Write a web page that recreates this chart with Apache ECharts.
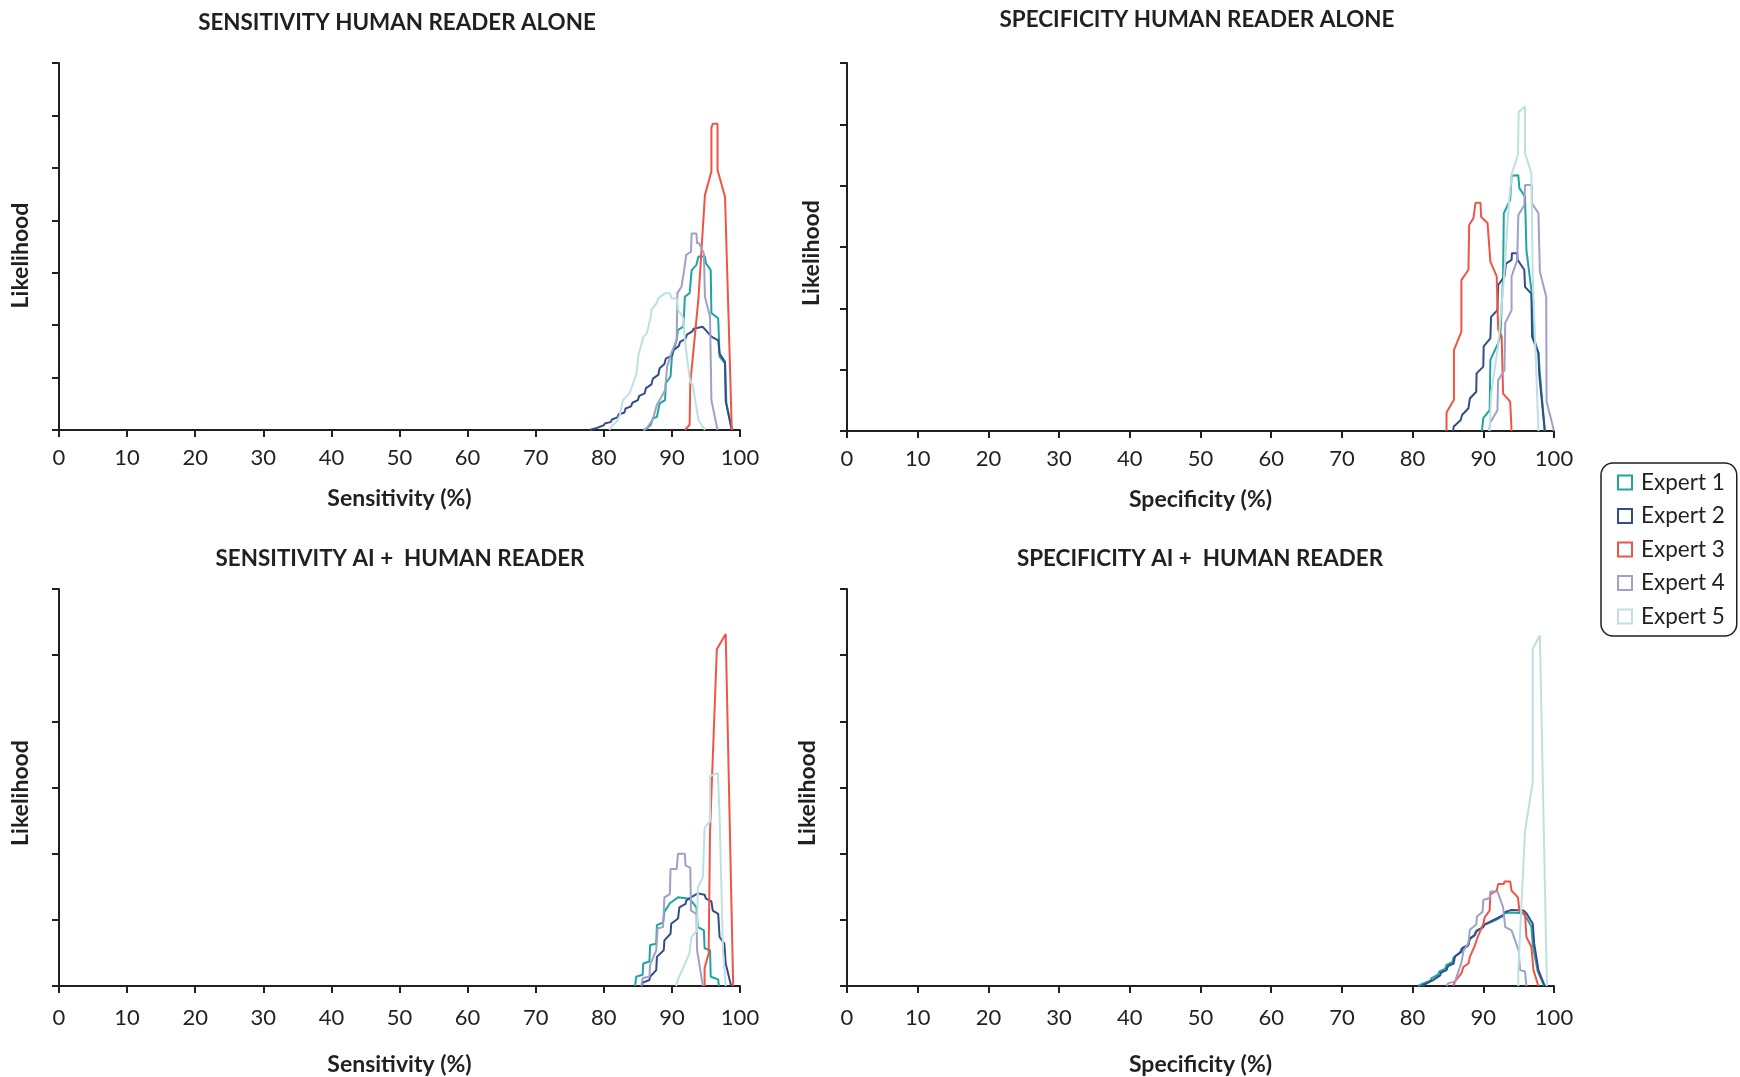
<!DOCTYPE html>
<html><head><meta charset="utf-8">
<script src="https://cdn.jsdelivr.net/npm/echarts@6/dist/echarts.min.js"></script>
<style>html,body{margin:0;padding:0;background:#fff}#c{width:1740px;height:1077px}</style>
</head><body><div id="c"></div>
<script>
const EXPERTS = ['Expert 1', 'Expert 2', 'Expert 3', 'Expert 4', 'Expert 5'];
const PANEL_TITLES = ['SENSITIVITY HUMAN READER ALONE', 'SPECIFICITY HUMAN READER ALONE', 'SENSITIVITY AI +  HUMAN READER', 'SPECIFICITY AI +  HUMAN READER'];
const X_NAMES = ['Sensitivity (%)', 'Specificity (%)', 'Sensitivity (%)', 'Specificity (%)'];
const Y_NAME = 'Likelihood';
const X_TICK_STEP = 10;
const Y_TICK_COUNTS = [7, 6, 6, 6];

// ---- Sensitivity, human reader alone: [x %, likelihood] ----
const SA_E1 = [[85.8,0],[86.3,0.03],[86.9,0.1],[87.2,0.22],[87.8,0.25],[88.2,0.51],[89.0,0.57],[89.1,0.89],[89.8,1.02],[90.0,1.4],[90.7,1.72],[90.9,1.91],[91.7,1.97],[91.9,2.54],[92.6,2.61],[92.9,3.05],[93.6,3.15],[93.9,3.31],[94.85,3.31],[95.0,3.18],[95.7,3.05],[95.8,2.23],[96.8,2.13],[97.0,1.4],[97.8,1.27],[98.0,0.51],[98.8,0]];
const SA_E2 = [[77.9,0],[78.0,0.02],[79.0,0.04],[79.1,0.07],[80.0,0.09],[80.2,0.13],[81.0,0.15],[81.2,0.2],[82.0,0.24],[82.2,0.3],[83.0,0.33],[83.2,0.41],[84.0,0.45],[84.2,0.52],[85.0,0.57],[85.2,0.65],[86.0,0.7],[86.2,0.8],[87.0,0.87],[87.2,0.98],[88.0,1.05],[88.2,1.18],[88.9,1.26],[89.1,1.36],[90.0,1.42],[90.2,1.52],[91.0,1.6],[91.2,1.68],[92.0,1.74],[92.2,1.82],[93.0,1.88],[93.2,1.93],[94.5,1.97],[95.0,1.9],[95.8,1.78],[96.8,1.71],[97.0,1.46],[97.8,1.3],[97.9,0.55],[98.8,0]];
const SA_E3 = [[91.9,0],[92.6,0.1],[92.7,0.89],[93.9,2.51],[94.85,4.48],[95.8,4.93],[95.8,5.76],[96.0,5.84],[96.7,5.84],[96.7,4.96],[97.8,4.45],[98.8,0]];
const SA_E4 = [[85.8,0],[86.3,0.03],[87.0,0.16],[87.3,0.25],[87.8,0.48],[88.2,0.57],[89.0,0.76],[89.3,1.21],[89.9,1.46],[90.7,1.72],[90.8,2.61],[91.4,2.73],[91.8,3.05],[92.1,3.34],[92.8,3.4],[92.9,3.75],[93.6,3.75],[93.7,3.56],[94.0,3.56],[94.7,3.37],[94.85,2.54],[95.6,2.16],[95.8,0.57],[96.7,0]];
const SA_E5 = [[80.8,0],[81.4,0.1],[81.9,0.16],[82.35,0.28],[82.8,0.57],[83.8,0.7],[84.8,1.08],[85.05,1.4],[85.8,1.78],[86.3,1.84],[86.9,2.16],[87.0,2.29],[87.75,2.42],[88.0,2.51],[89.0,2.61],[89.7,2.61],[89.95,2.51],[90.7,2.51],[90.9,2.29],[91.7,2.13],[91.9,1.72],[92.65,0.95],[93.1,0.83],[93.9,0.19],[94.85,0]];

// ---- Specificity, human reader alone ----
const PA_E1 = [[89.8,0],[90.0,0.21],[90.9,0.34],[91.0,1.16],[92.1,1.43],[92.4,1.54],[92.8,2.52],[92.9,3.55],[93.8,3.77],[94.0,4.16],[94.95,4.17],[95.1,3.96],[95.9,3.82],[96.1,2.95],[96.8,2.3],[97.1,1.54],[97.8,1.27],[98.0,0.94],[98.7,0]];
const PA_E2 = [[85.75,0],[85.8,0.07],[86.8,0.18],[87.0,0.26],[87.9,0.37],[88.1,0.53],[89.0,0.64],[89.05,0.94],[90.0,1.05],[90.05,1.38],[91.0,1.51],[91.1,1.86],[92.0,1.97],[92.1,2.38],[93.0,2.52],[93.2,2.73],[94.0,2.79],[94.05,2.9],[94.8,2.9],[94.85,2.79],[95.8,2.63],[95.9,2.35],[96.8,2.24],[96.9,1.54],[97.8,1.27],[97.9,0.94],[98.7,0]];
const PA_E3 = [[84.8,0],[84.8,0.3],[85.85,0.51],[85.85,1.32],[86.9,1.62],[86.9,2.46],[87.9,2.63],[88.0,3.36],[88.6,3.47],[88.9,3.72],[89.6,3.72],[89.7,3.49],[90.6,3.39],[91.0,2.76],[91.9,2.52],[92.1,1.65],[92.6,1.54],[92.8,0.61],[93.8,0.48],[94.0,0]];
const PA_E4 = [[90.85,0],[90.95,0.13],[92.0,0.34],[92.1,0.83],[93.0,0.99],[93.1,1.76],[94.0,1.97],[94.0,2.52],[94.8,2.79],[94.95,3.52],[95.8,3.68],[95.9,4.01],[96.85,4.01],[96.9,3.71],[97.8,3.55],[98.0,2.6],[98.9,2.19],[98.95,0.48],[100,0]];
const PA_E5 = [[90.9,0],[91.1,0.6],[92.1,1.4],[93.0,2.6],[93.6,3.7],[94.05,4.2],[94.9,4.5],[95.0,5.2],[95.9,5.29],[95.9,4.53],[96.8,4.2],[97.0,2.5],[97.8,0]];

// ---- Sensitivity, AI + human reader ----
const SB_E1 = [[84.6,0],[84.75,0.14],[85.7,0.17],[85.8,0.34],[86.7,0.37],[86.8,0.62],[87.7,0.64],[87.8,0.92],[88.7,0.96],[88.9,1.12],[89.7,1.25],[89.9,1.27],[90.9,1.34],[92.6,1.32],[93.6,1.19],[93.8,0.89],[94.7,0.84],[94.8,0.57],[95.6,0.54],[95.7,0.14],[96.8,0.1],[96.9,0]];
const SB_E2 = [[85.6,0],[85.7,0.05],[86.7,0.09],[86.8,0.14],[87.7,0.24],[87.8,0.44],[88.8,0.54],[88.9,0.69],[89.8,0.79],[89.9,0.94],[90.9,1.02],[91.1,1.19],[92.0,1.24],[92.1,1.29],[92.8,1.34],[92.9,1.37],[93.8,1.4],[94.8,1.38],[95.0,1.32],[95.8,1.28],[96.0,1.14],[96.8,1.09],[97.0,0.74],[97.7,0.64],[97.9,0.34],[98.7,0]];
const SB_E3 = [[94.8,0],[94.8,0.27],[95.4,0.49],[95.6,2.34],[96.6,5.09],[97.9,5.32],[99.0,0]];
const SB_E4 = [[85.5,0],[85.7,0.12],[86.7,0.14],[86.8,0.32],[87.7,0.54],[87.9,0.87],[88.7,0.89],[88.9,1.34],[89.7,1.39],[89.8,1.77],[90.7,1.77],[90.9,2.0],[91.9,2.0],[92.0,1.82],[92.7,1.79],[92.8,1.14],[93.6,1.09],[93.7,0.54],[94.55,0]];
const SB_E5 = [[90.6,0],[90.9,0.1],[92.6,0.5],[92.85,0.74],[93.7,0.84],[93.8,1.49],[94.55,1.64],[94.8,2.39],[95.6,2.49],[95.6,3.17],[96.75,3.22],[97.0,2.59],[97.5,0.54],[97.9,0]];

// ---- Specificity, AI + human reader ----
const PB_E1 = [[80.8,0],[81.5,0.04],[82.5,0.08],[82.7,0.12],[83.6,0.17],[83.8,0.22],[84.6,0.26],[84.8,0.32],[85.6,0.36],[85.8,0.43],[86.7,0.5],[86.9,0.56],[87.8,0.6],[88.0,0.7],[88.7,0.76],[88.9,0.82],[89.8,0.87],[90.0,0.92],[90.8,0.95],[91.0,0.98],[91.8,1.0],[92.0,1.03],[92.8,1.06],[93.0,1.1],[93.9,1.11],[95.6,1.1],[96.0,1.05],[96.8,0.9],[97.0,0.62],[97.7,0.22],[98.6,0]];
const PB_E2 = [[81.3,0],[82.0,0.04],[82.9,0.09],[83.0,0.12],[83.9,0.16],[84.0,0.2],[84.8,0.24],[85.0,0.3],[85.8,0.34],[86.0,0.45],[86.9,0.52],[87.1,0.58],[87.9,0.62],[88.1,0.72],[88.8,0.77],[89.1,0.84],[90.0,0.89],[90.2,0.93],[90.9,0.97],[91.1,1.0],[91.9,1.02],[92.1,1.05],[92.8,1.07],[93.1,1.12],[94.0,1.15],[95.7,1.14],[96.1,1.1],[97.0,0.94],[97.2,0.64],[97.8,0.24],[98.7,0]];
const PB_E3 = [[85.75,0],[86.0,0.07],[86.9,0.19],[87.2,0.29],[87.9,0.34],[88.1,0.44],[88.8,0.61],[89.2,0.74],[90.0,0.94],[90.2,1.04],[90.9,1.14],[91.0,1.39],[91.9,1.44],[92.1,1.54],[92.9,1.54],[93.0,1.58],[93.8,1.58],[94.0,1.44],[94.9,1.34],[95.1,1.14],[95.9,1.09],[96.1,0.74],[96.8,0.59],[97.1,0.24],[97.8,0]];
const PB_E4 = [[84.8,0],[85.0,0.04],[86.0,0.07],[86.9,0.35],[87.2,0.53],[87.9,0.65],[88.1,0.85],[89.0,0.93],[89.1,1.05],[89.9,1.12],[90.0,1.3],[90.9,1.33],[91.0,1.43],[92.0,1.43],[92.8,1.19],[93.1,0.89],[94.0,0.84],[95.0,0.54],[95.2,0.24],[95.9,0.22],[96.1,0]];
const PB_E5 = [[94.95,0],[94.95,0.24],[95.9,2.34],[97.0,3.09],[97.0,5.09],[98.0,5.3],[99.0,0]];

const PANEL_SERIES = [
  [SA_E1, SA_E2, SA_E3, SA_E4, SA_E5],
  [PA_E1, PA_E2, PA_E3, PA_E4, PA_E5],
  [SB_E1, SB_E2, SB_E3, SB_E4, SB_E5],
  [PB_E1, PB_E2, PB_E3, PB_E4, PB_E5]
];

const COLORS = ['#1FA3A3', '#334C8A', '#EE5546', '#A0A0C8', '#BEE0E2'];
const INK = '#231f20';
const FONT = 'Lato';

const GRIDS = [
  { left: 59, top: 63, width: 681, height: 367 },
  { left: 847, top: 63, width: 707, height: 368 },
  { left: 59, top: 589, width: 681, height: 400 },
  { left: 847, top: 589, width: 707, height: 400 }
];
const TITLE_POS = [[397, 12], [1197, 8.5], [400, 548], [1200, 548]];
const X_LABEL_MARGIN = [17, 17, 21, 21];
const X_NAME_GAP = [57, 57, 67, 67];
const Y_NAME_GAP = [27, 24, 27, 27.5];
const Y_NAME_PAD = [18, 12, 11, 11];

const chart = echarts.init(document.getElementById('c'), null, { renderer: 'canvas' });

const option = {
  animation: false,
  backgroundColor: '#ffffff',
  title: PANEL_TITLES.map((t, i) => ({
    text: t, left: TITLE_POS[i][0], top: TITLE_POS[i][1], textAlign: 'center', padding: 0,
    textStyle: { fontFamily: FONT, fontWeight: 'bold', fontSize: 22.4, color: INK }
  })),
  legend: {
    orient: 'vertical', left: 1601, top: 463,
    icon: 'rect', itemWidth: 14, itemHeight: 14, itemGap: 10.5,
    padding: [8, 12, 8, 16],
    borderColor: INK, borderWidth: 1.5, borderRadius: 12,
    textStyle: { fontFamily: FONT, fontSize: 22.5, color: INK, padding: [0, 0, 0, 4] },
    data: EXPERTS.map((n, i) => ({ name: n, itemStyle: { color: '#ffffff', borderColor: COLORS[i], borderWidth: 2 } }))
  },
  grid: GRIDS.map(g => Object.assign({ containLabel: false }, g)),
  xAxis: GRIDS.map((g, i) => ({
    type: 'value', gridIndex: i, min: 0, max: 100, interval: X_TICK_STEP,
    name: X_NAMES[i], nameLocation: 'middle', nameGap: X_NAME_GAP[i],
    nameTextStyle: { fontFamily: FONT, fontWeight: 'bold', fontSize: 23, color: INK },
    axisLine: { show: true, lineStyle: { color: INK, width: 2 } },
    axisTick: { show: true, length: 7, lineStyle: { color: INK, width: 2 } },
    axisLabel: { fontFamily: FONT, fontSize: 22, color: INK, margin: X_LABEL_MARGIN[i] },
    splitLine: { show: false }
  })),
  yAxis: GRIDS.map((g, i) => ({
    type: 'value', gridIndex: i, min: 0, max: Y_TICK_COUNTS[i], interval: 1,
    name: Y_NAME, nameLocation: 'middle', nameRotate: 90, nameGap: Y_NAME_GAP[i],
    nameTextStyle: { fontFamily: FONT, fontWeight: 'bold', fontSize: 23, color: INK, padding: [0, Y_NAME_PAD[i], 0, 0] },
    axisLine: { show: true, lineStyle: { color: INK, width: 2 } },
    axisTick: { show: true, length: 7, lineStyle: { color: INK, width: 2 } },
    axisLabel: { show: false },
    splitLine: { show: false }
  })),
  series: []
};

PANEL_SERIES.forEach((panel, p) => {
  panel.forEach((data, e) => {
    option.series.push({
      type: 'line', name: EXPERTS[e], xAxisIndex: p, yAxisIndex: p,
      data: data, symbol: 'none', showSymbol: false, smooth: false,
      lineStyle: { color: COLORS[e], width: 2 }, itemStyle: { color: COLORS[e] },
      emphasis: { disabled: true }, z: 2
    });
  });
});

chart.setOption(option);
</script>
</body></html>
